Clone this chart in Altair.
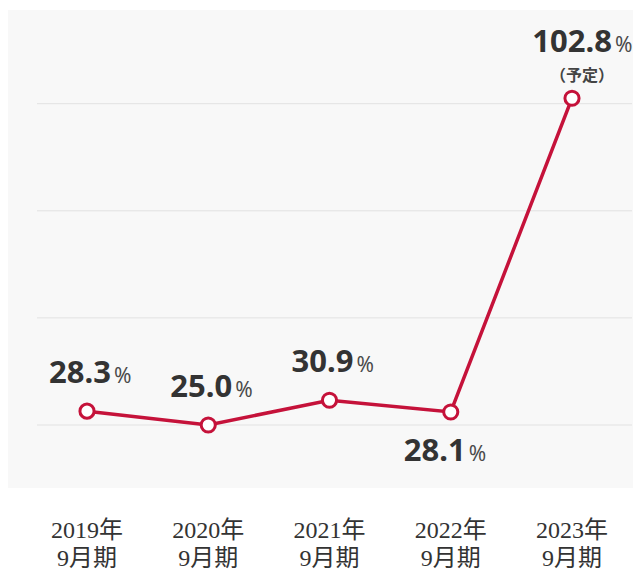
import altair as alt
import pandas as pd

# ---- data ----
years = ["2019年", "2020年", "2021年", "2022年", "2023年"]
periods = ["9月期", "9月期", "9月期", "9月期", "9月期"]
values = [28.3, 25.0, 30.9, 28.1, 102.8]
value_labels = ["28.3", "25.0", "30.9", "28.1", "102.8"]
placements = ["above", "above", "above", "below", "above"]
notes = ["", "", "", "", "（予定）"]
grid_values = [25, 50.5, 76, 101.5]

df = pd.DataFrame({
    "i": list(range(len(years))),
    "cat": [f"{y}\n{p}" for y, p in zip(years, periods)],
    "v": values,
    "lab": value_labels,
    "pos": placements,
    "note": notes,
})
grid_df = pd.DataFrame({"g": grid_values})

RED = "#c5123a"
W, H = 625, 478

xs = alt.Scale(domain=[-79 / 121.25, (W - 79) / 121.25], nice=False, zero=False)
ys = alt.Scale(domain=[10, 10 + H / 4.2], nice=False, zero=False)
X = alt.X("i:Q", scale=xs, axis=None)
Y = alt.Y("v:Q", scale=ys, axis=None)

grid = alt.Chart(grid_df).mark_rule(color="#e2e2e2", strokeWidth=1).encode(
    y=alt.Y("g:Q", scale=ys, axis=None),
    x=alt.value(29),
    x2=alt.value(624),
)

base = alt.Chart(df)
line = base.mark_line(color=RED, strokeWidth=3.5).encode(x=X, y=Y)
pts = base.mark_point(filled=True, fill="white", stroke=RED, strokeWidth=3,
                      size=200, opacity=1).encode(x=X, y=Y)

num_font = "Noto Sans"
def num_layer(flt, dx, dy):
    d = base.transform_filter(flt)
    n = d.mark_text(font=num_font, fontSize=31, fontWeight="bold", color="#333333",
                    align="right", baseline="alphabetic", dx=dx, dy=dy).encode(
        x=X, y=Y, text="lab:N")
    p = d.mark_text(font=num_font, fontSize=21, color="#4a4a4a",
                    align="left", baseline="alphabetic", dx=dx + 3, dy=dy).encode(
        x=X, y=Y, text=alt.value("%"))
    return n + p

above = num_layer("datum.pos == 'above' && datum.note == ''", 24, -28)
below = num_layer("datum.pos == 'below' && datum.note == ''", 15, 49)
noted = num_layer("datum.note != ''", 40, -46)
note_txt = base.transform_filter("datum.note != ''").mark_text(
    font="Noto Sans CJK JP", fontSize=16, color="#444444", fontWeight="bold",
    align="center", baseline="alphabetic", dx=10, dy=-17).encode(
    x=X, y=Y, text="note:N")

xlab = base.mark_text(font="Liberation Serif, Noto Sans CJK JP", fontSize=24,
                      color="#333333", align="center", baseline="alphabetic",
                      lineBreak="\n", lineHeight=28).encode(
    x=X, y=alt.value(528), text="cat:N")

chart = alt.layer(grid, line, pts, above, below, noted, note_txt, xlab).properties(
    width=W, height=H,
    padding={"top": 2, "left": 0, "right": 0, "bottom": 0},
    background="white",
).configure_view(fill="#f8f8f8", stroke=None)

chart.save("out.html", embed_options={"renderer": "svg", "actions": False})
